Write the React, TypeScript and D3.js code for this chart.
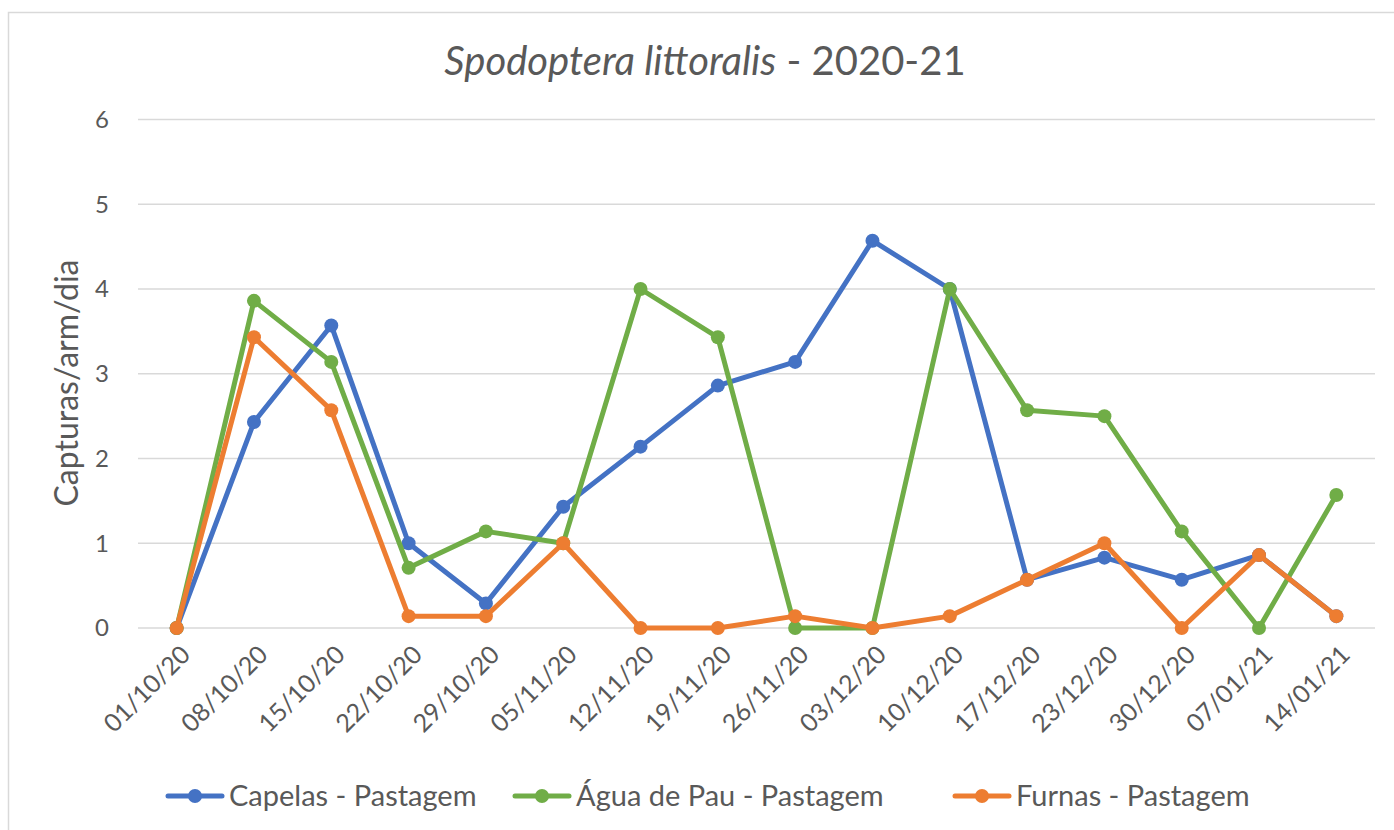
import React from "react";
import * as d3 from "d3";

const categories = ["01/10/20","08/10/20","15/10/20","22/10/20","29/10/20","05/11/20","12/11/20","19/11/20","26/11/20","03/12/20","10/12/20","17/12/20","23/12/20","30/12/20","07/01/21","14/01/21"];
const capelas = [0, 2.43, 3.57, 1.0, 0.29, 1.43, 2.14, 2.86, 3.14, 4.57, 4.0, 0.57, 0.83, 0.57, 0.86, 0.14];
const aguaDePau = [0, 3.86, 3.14, 0.71, 1.14, 1.0, 4.0, 3.43, 0, 0, 4.0, 2.57, 2.5, 1.14, 0, 1.57];
const furnas = [0, 3.43, 2.57, 0.14, 0.14, 1.0, 0, 0, 0.14, 0, 0.14, 0.57, 1.0, 0, 0.86, 0.14];
const yTicks = [0, 1, 2, 3, 4, 5, 6];

const series = [
  { name: "Capelas - Pastagem", values: capelas, color: "#4472C4", lx: 168 },
  { name: "Água de Pau - Pastagem", values: aguaDePau, color: "#70AD47", lx: 515 },
  { name: "Furnas - Pastagem", values: furnas, color: "#ED7D31", lx: 955 },
];

const W = 1394, H = 830;
const FONT = "Lato, 'Open Sans', sans-serif";
const TXT = "#595959";

export default function App() {
  const x = d3.scaleBand<string>().domain(categories).range([138, 1375]);
  const y = d3.scaleLinear().domain([0, 6]).range([628, 119.5]);
  const cx = (c: string) => (x(c) as number) + x.bandwidth() / 2;
  const line = d3.line<number>().x((_, i) => cx(categories[i])).y((d) => y(d));

  return (
    <svg width={W} height={H} style={{ position: "absolute", left: 0, top: 0, display: "block" }}>
      <rect x={0} y={0} width={W} height={H} fill="#fff" />
      <rect x={8.5} y={12.5} width={W} height={H} fill="#fff" stroke="#D9D9D9" strokeWidth={1.5} />
      <text x={705} y={75} textAnchor="middle" fontFamily={FONT} fontSize={40} fill={TXT}>
        <tspan fontStyle="italic">Spodoptera littoralis</tspan>
        <tspan> - 2020-21</tspan>
      </text>
      {yTicks.map((t) => (
        <g key={t}>
          <line x1={138} x2={1375} y1={y(t)} y2={y(t)} stroke="#D9D9D9" strokeWidth={1.5} />
          <text x={109} y={y(t)} dy="0.35em" textAnchor="end" fontFamily={FONT} fontSize={24} fill={TXT}>{t}</text>
        </g>
      ))}
      <text transform={`translate(78,383) rotate(-90)`} textAnchor="middle" fontFamily={FONT} fontSize={32} fill={TXT}>Capturas/arm/dia</text>
      {categories.map((c) => (
        <text key={c} transform={`translate(${cx(c) + 9},${650}) rotate(-45)`} textAnchor="end" dy="0.35em" fontFamily={FONT} fontSize={25} fill={TXT}>{c}</text>
      ))}
      {series.map((s) => (
        <g key={s.name}>
          <path d={line(s.values) || ""} fill="none" stroke={s.color} strokeWidth={5} strokeLinejoin="round" strokeLinecap="round" />
          {s.values.map((v, i) => (
            <circle key={i} cx={cx(categories[i])} cy={y(v)} r={7} fill={s.color} />
          ))}
        </g>
      ))}
      {series.map((s) => (
        <g key={"l" + s.name}>
          <line x1={s.lx} x2={s.lx + 54} y1={796} y2={796} stroke={s.color} strokeWidth={5} strokeLinecap="round" />
          <circle cx={s.lx + 27} cy={796} r={7} fill={s.color} />
          <text x={s.lx + 61} y={796} dy="0.35em" fontFamily={FONT} fontSize={29} fill={TXT}>{s.name}</text>
        </g>
      ))}
    </svg>
  );
}
